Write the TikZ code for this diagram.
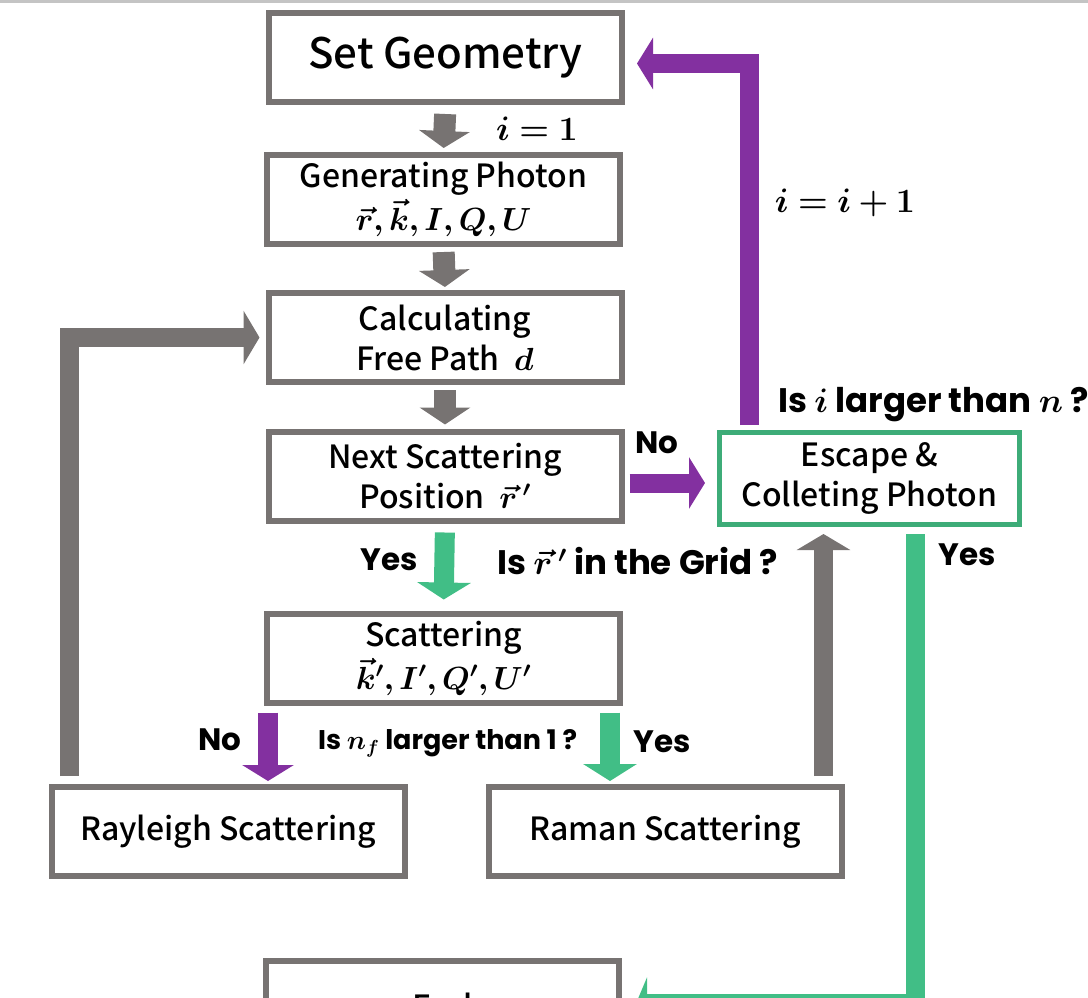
\RequirePackage{fix-cm}
\documentclass[tikz,border=0pt]{standalone}
\usepackage{amsmath,bm}
\usepackage[no-math]{fontspec}
\setmainfont{Noto Sans CJK KR}[UprightFont=* Medium, BoldFont=* Bold]
\newfontfamily\qfont{Poppins}
\usetikzlibrary{arrows.meta,calc}
\definecolor{bgray}{HTML}{777372}
\definecolor{ppl}{HTML}{8330A0}
\definecolor{grn}{HTML}{41BE86}
\definecolor{grnb}{HTML}{3DAC78}
\definecolor{topline}{HTML}{C4C4C4}
\begin{document}
\begin{tikzpicture}[x=1pt,y=-1pt,
  box/.style={draw=bgray, line width=6pt, fill=white, minimum width=353pt,
    minimum height=89pt, align=center, inner sep=0pt,
    font=\fontsize{32}{40}\selectfont},
  gbox/.style={box, draw=grnb, line width=5pt, minimum width=300pt, minimum height=92pt},
  vgarr/.style={draw=bgray, line width=22pt, -{Triangle[width=50pt,length=17pt]}},
  garr/.style={draw=bgray, line width=19pt, -{Triangle[width=53pt,length=16pt]}},
  parr/.style={draw=ppl, line width=19pt, -{Triangle[width=51pt,length=16pt]}},
  grarr/.style={draw=grn, line width=20pt, -{Triangle[width=53pt,length=17pt]}},
  lbl/.style={font=\qfont\fontsize{31}{33}\selectfont\bfseries, inner sep=0pt},
  qlbl/.style={font=\qfont\fontsize{34}{36}\selectfont\bfseries, inner sep=0pt, anchor=west},
  mlbl/.style={font=\fontsize{34}{36}\selectfont, inner sep=0pt}
]
\useasboundingbox (0,0) rectangle (1088,997);
\clip (0,0) rectangle (1088,997);
\draw[topline, line width=3pt] (0,1) -- (1088,1);

% boxes
\node[box, font=\fontsize{42}{44}\selectfont] (geo) at (445.5,57.5) {Set Geometry};
\node[box] (gen) at (443.5,199.5) {Generating Photon\\[3pt]$\bm{\vec r,\vec k,I,Q,U}$};
\node[box] (calc) at (445,337.5) {Calculating\\Free Path\ \ $\bm{d}$};
\node[box] (next) at (445,476) {Next Scattering\\Position\ \ $\bm{\vec r\,'}$};
\node[gbox] (esc) at (869.5,478.5) {Escape \&\\Colleting Photon};
\node[box] (scat) at (443.5,658) {Scattering\\[3pt]$\bm{\vec k',I',Q',U'}$};
\node[box] (ray) at (228,831.5) {Rayleigh Scattering};
\node[box] (ram) at (665,831.5) {Raman Scattering};
\node[box] (end) at (442.5,1005.5) {End};

% straight gray arrows
\draw[vgarr, shorten <=9pt, shorten >=4pt] (geo.south) -- (gen.north);
\draw[vgarr, shorten <=5pt, shorten >=3pt] (gen.south) -- (calc.north);
\draw[vgarr, shorten <=5pt, shorten >=4pt] (calc.south) -- (next.north);

% next -> scat (yes)
\draw[grarr, shorten <=9pt, shorten >=11pt] (next.south) -- (scat.north);
% next -> esc (no)
\draw[parr] ($(next.east)+(5,7)$) -- ($(esc.west)+(-12,4.5)$);
% esc -> geo loop
\draw[parr] ($(esc.north west)+(32.5,-5)$) |- ($(geo.east)+(12,6)$);
% rayleigh -> calc loop
\draw[garr] ($(ray.north west)+(20.5,-8)$) |- ($(calc.west)+(-6,0)$);
% raman -> esc
\coordinate (ramtop) at ($(ram.north east)+(-21,-8)$);
\draw[garr, shorten >=7pt] (ramtop) -- (ramtop |- esc.south);
% esc -> end
\draw[grarr, line width=19pt, -{Triangle[width=52pt,length=11pt]}] ($(esc.south east)+(-106.5,7)$) |- ($(end.east)+(14,-2)$);
% scat -> ray / ram
\coordinate (sl) at ($(scat.south west)+(4,7)$);
\coordinate (sr) at ($(scat.south east)+(-13,7)$);
\draw[parr, line width=20pt, -{Triangle[width=51pt,length=16pt]}, shorten >=3pt] (sl) -- (sl |- ray.north);
\draw[grarr, shorten >=3pt] (sr) -- (sr |- ram.north);

% labels
\node[mlbl] (l1) at (537,129) {$\bm{i=1}$};
\node[mlbl] (l2) at (845,203) {$\bm{i=i+1}$};
\node[qlbl] (q1) at (778,405) {Is $\bm{i}$ larger than $\bm{n}$ ?};
\node[lbl] (no1) at (657,443) {No};
\node[lbl] (yes1) at (389,560) {Yes};
\node[qlbl] (q2) at (497,561) {Is $\bm{\vec r\,'}$ in the Grid ?};
\node[lbl] (yes2) at (967,555) {Yes};
\node[lbl] (no2) at (220,740) {No};
\node[qlbl, font=\qfont\fontsize{27}{29}\selectfont\bfseries] (q3) at (318,743) {Is $\bm{n_f}$ larger than 1 ?};
\node[lbl] (yes3) at (662,742) {Yes};
\end{tikzpicture}
\end{document}
